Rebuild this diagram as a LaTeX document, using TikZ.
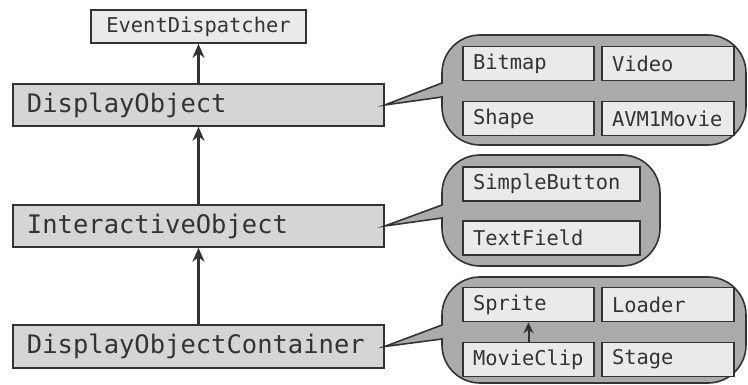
\documentclass[tikz,border=0pt]{standalone}
\usepackage{fontspec}
\setmonofont{DejaVu Sans Mono}
\usetikzlibrary{arrows.meta}
\definecolor{lnc}{HTML}{333333}
\definecolor{txc}{HTML}{333333}
\definecolor{lightfill}{HTML}{EAEAEA}
\definecolor{mainfill}{HTML}{D5D5D5}
\definecolor{bubfill}{HTML}{ABABAB}
\tikzset{
  mainbox/.style={draw=lnc, line width=1.6pt, fill=mainfill, inner sep=0pt, inner xsep=14pt,
    minimum width=371pt, minimum height=42pt, text width=343pt, align=left,
    font=\ttfamily\fontsize{25.5}{27}\selectfont, text=txc},
  topbox/.style={draw=lnc, line width=1.6pt, fill=lightfill, inner sep=0pt,
    minimum width=215pt, minimum height=33pt, align=center,
    font=\ttfamily\fontsize{20.4}{22}\selectfont, text=txc},
  subbox/.style={draw=lnc, line width=1.6pt, fill=lightfill, inner sep=0pt, inner xsep=10pt,
    minimum height=34pt, align=left,
    font=\ttfamily\fontsize{20.4}{22}\selectfont, text=txc},
  bubble/.style={draw=lnc, line width=1.6pt, fill=bubfill},
  inherit/.style={draw=lnc, line width=2.2pt, -{Stealth[length=14pt,width=12pt]}},
  smallinherit/.style={draw=lnc, line width=2pt, -{Stealth[length=11pt,width=10pt]}}
}
\begin{document}
\begin{tikzpicture}[x=1pt, y=-1pt]
\useasboundingbox (0,0) rectangle (748,385);

\node[topbox] (ed) at (198.5,26.5) {EventDispatcher};
\node[mainbox] (do) at (198.5,105) {\mbox{DisplayObject}};
\node[mainbox] (io) at (198.5,226) {\mbox{InteractiveObject}};
\node[mainbox, minimum height=43pt] (doc) at (198.5,346.5) {\mbox{DisplayObjectContainer}};

\draw[inherit] (do.north) -- (ed.south);
\draw[inherit] (io.north) -- (do.south);
\draw[inherit] (doc.north) -- (io.south);

% bubble 1
\draw[bubble] (do.east) -- (442,83) [rounded corners=38pt] -- (442,35) -- (746,35) -- (746,145) -- (442,145) [sharp corners] -- (442,97) -- cycle;
\node[subbox, minimum width=131pt, text width=111pt] (bitmap) at (528.5,63.5) {\mbox{Bitmap}};
\node[subbox, minimum width=132pt, text width=112pt] (video) at (668,63.5) {\mbox{Video}};
\node[subbox, minimum width=131pt, text width=111pt] (shape) at (528.5,118.5) {\mbox{Shape}};
\node[subbox, minimum width=132pt, text width=112pt] (avm) at (668,118.5) {\mbox{AVM1Movie}};

% bubble 2
\draw[bubble] (io.east) -- (442,205) [rounded corners=38pt] -- (442,155) -- (660,155) -- (660,266) -- (442,266) [sharp corners] -- (442,218) -- cycle;
\node[subbox, minimum width=177pt, text width=157pt] (sbtn) at (551.5,184) {\mbox{SimpleButton}};
\node[subbox, minimum width=177pt, text width=157pt] (tf) at (551.5,238) {\mbox{TextField}};

% bubble 3
\draw[bubble] (doc.east) -- (442,325) [rounded corners=38pt] -- (442,277) -- (746,277) -- (746,383) -- (442,383) [sharp corners] -- (442,339) -- cycle;
\node[subbox, minimum width=131pt, text width=111pt] (sprite) at (528.5,304.5) {\mbox{Sprite}};
\node[subbox, minimum width=132pt, text width=112pt] (loader) at (668,304.5) {\mbox{Loader}};
\node[subbox, minimum width=131pt, text width=111pt] (mc) at (528.5,359.5) {\mbox{MovieClip}};
\node[subbox, minimum width=132pt, text width=112pt] (stage) at (668,359.5) {\mbox{Stage}};

\draw[smallinherit] (mc.north) -- (sprite.south);
\end{tikzpicture}
\end{document}
